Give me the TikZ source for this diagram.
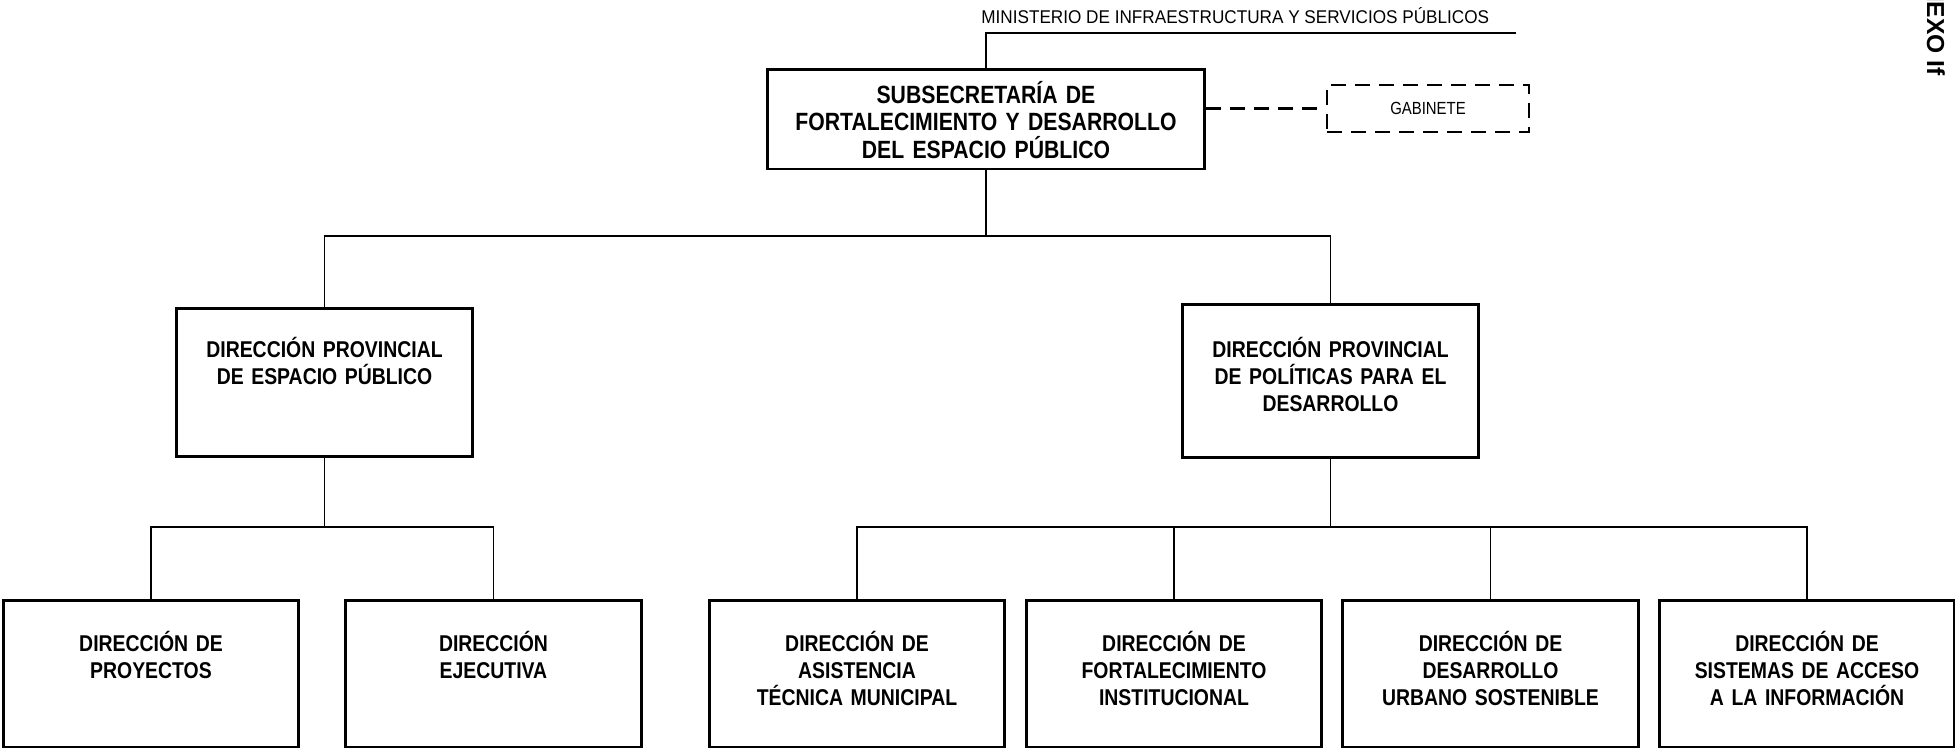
\documentclass[tikz,border=0pt]{standalone}
\usepackage{fontspec}
\setmainfont{Liberation Sans}
\newfontfamily\estrecha[FakeStretch=0.85]{Liberation Sans}
\newfontfamily\ministerio[FakeStretch=0.93]{Liberation Sans}
\usetikzlibrary{positioning}

\tikzset{
	caja/.style={draw, line width=1.7pt, minimum width=5.92cm, minimum height=2.94cm, inner sep=0pt},
	texto/.style={font=\estrecha\bfseries\fontsize{13}{15.5}\selectfont, align=center, text width=5.6cm, inner sep=0pt, anchor=base},
	linea/.style={line width=0.75pt},
	guiones/.style={line width=1.5pt, dash pattern=on 0.3cm off 0.18cm},
}

\begin{document}
\begin{tikzpicture}[x=0.02cm, y=-0.02cm]
		\useasboundingbox (0,0) rectangle (1955,751);
		
		% subsecretaria y gabinete
		\node[caja, minimum width=8.76cm, minimum height=2cm] (sub) at (986,119) {};
		\node[texto, font=\estrecha\bfseries\fontsize{14.2}{15.6}\selectfont, text width=8.5cm] (subt) at ([yshift=-0.72cm]sub.north) {SUBSECRETARÍA DE\\FORTALECIMIENTO Y DESARROLLO\\DEL ESPACIO PÚBLICO};
		\node[caja, guiones, minimum width=4.04cm, minimum height=0.94cm, font=\estrecha\fontsize{10}{12}\selectfont] (gab) at (1428,108.5) {GABINETE};
		\draw[guiones] (sub.east |- gab.west) -- (gab.west);
		
		% ministerio
		\coordinate (mlinea) at (1516,33);
		\draw[linea] (sub.north) |- (mlinea);
		\node[font=\ministerio\fontsize{10.5}{12}\selectfont, anchor=base west, inner sep=0pt] (min) at (981,23.8) {MINISTERIO DE INFRAESTRUCTURA Y SERVICIOS PÚBLICOS};
		
		% anexo
		\node[font=\bfseries\fontsize{14}{16}\selectfont, rotate=-90, anchor=base west, inner sep=0pt] (anexo) at (1927,-34) {ANEXO If};
		
		% direcciones provinciales
		\node[caja, minimum height=2.98cm] (dpe) at (324.5,382.5) {};
		\node[texto] (dpet) at ([yshift=-1.02cm]dpe.north) {DIRECCIÓN PROVINCIAL\\DE ESPACIO PÚBLICO};
		\node[caja, minimum height=3.06cm] (dppd) at (1330.5,381) {};
		\node[texto] (dppdt) at ([yshift=-1.08cm]dppd.north) {DIRECCIÓN PROVINCIAL\\DE POLÍTICAS PARA EL\\DESARROLLO};
		
		\coordinate (t1) at (986,236);
		\draw[linea] (sub.south) -- (t1);
		\draw[linea] (dpe.north) |- (t1) -| (dppd.north);
		
		% direcciones
		\node[caja] (b1) at (151,673.5) {};
		\node[texto] (b1t) at ([yshift=-1.05cm]b1.north) {DIRECCIÓN DE\\PROYECTOS};
		\node[caja] (b2) at (493.5,673.5) {};
		\node[texto] (b2t) at ([yshift=-1.05cm]b2.north) {DIRECCIÓN\\EJECUTIVA};
		\node[caja] (b3) at (857,673.5) {};
		\node[texto] (b3t) at ([yshift=-1.05cm]b3.north) {DIRECCIÓN DE\\ASISTENCIA\\TÉCNICA MUNICIPAL};
		\node[caja] (b4) at (1174,673.5) {};
		\node[texto] (b4t) at ([yshift=-1.05cm]b4.north) {DIRECCIÓN DE\\FORTALECIMIENTO\\INSTITUCIONAL};
		\node[caja] (b5) at (1490.5,673.5) {};
		\node[texto] (b5t) at ([yshift=-1.05cm]b5.north) {DIRECCIÓN DE\\DESARROLLO\\URBANO SOSTENIBLE};
		\node[caja] (b6) at (1807,673.5) {};
		\node[texto] (b6t) at ([yshift=-1.05cm]b6.north) {DIRECCIÓN DE\\SISTEMAS DE ACCESO\\A LA INFORMACIÓN};
		
		\coordinate (t2) at (324.5,527);
		\draw[linea] (dpe.south) -- (t2);
		\draw[linea] (b1.north) |- (t2) -| (b2.north);
		
		\coordinate (t3) at (1330.5,527);
		\draw[linea] (dppd.south) -- (t3);
		\draw[linea] (b3.north) |- (t3) -| (b6.north);
		\draw[linea] (b4.north) -- (b4.north |- t3);
		\draw[linea] (b5.north) -- (b5.north |- t3);
\end{tikzpicture}
\end{document}
